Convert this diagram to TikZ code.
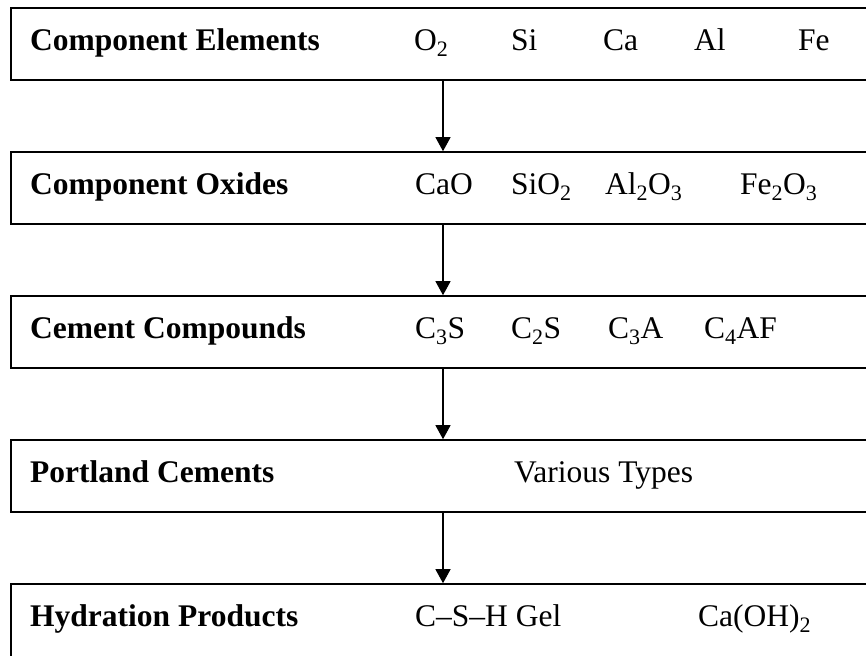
\documentclass[tikz,border=0pt]{standalone}
\usepackage{fontspec}
\setmainfont{Liberation Serif}
\usetikzlibrary{arrows.meta}
\tikzset{
  stagebox/.style={draw=black, line width=1.6pt, minimum width=864pt, minimum height=72pt, inner sep=0pt},
  lbl/.style={anchor=base west, inner sep=0pt, font=\fontsize{31.5}{36}\selectfont\bfseries},
  itm/.style={anchor=base west, inner sep=0pt, font=\fontsize{31.5}{36}\selectfont},
  arr/.style={line width=1.2pt, -{Triangle[length=14pt,width=15pt]}}
}
\newcommand{\sub}[1]{\textsubscript{#1}}
\begin{document}
\begin{tikzpicture}[x=1pt,y=-1pt]
\useasboundingbox (0,0) rectangle (866,655);
% boxes
\node[stagebox] (b1) at (443,44) {};
\node[stagebox] (b2) at (443,188) {};
\node[stagebox] (b3) at (443,332) {};
\node[stagebox] (b4) at (443,476) {};
\node[stagebox, minimum height=78pt] (b5) at (443,623) {};
% row 1
\node[lbl] (l1) at (30,50.5) {Component Elements};
\node[itm] (e1) at (414,50.5) {O\sub{2}};
\node[itm] (e2) at (511,50.5) {Si};
\node[itm] (e3) at (603,50.5) {Ca};
\node[itm] (e4) at (694,50.5) {Al};
\node[itm] (e5) at (798,50.5) {Fe};
% row 2
\node[lbl] (l2) at (30,194.5) {Component Oxides};
\node[itm] (o1) at (415,194.5) {CaO};
\node[itm] (o2) at (511,194.5) {SiO\sub{2}};
\node[itm] (o3) at (605,194.5) {Al\sub{2}O\sub{3}};
\node[itm] (o4) at (740,194.5) {Fe\sub{2}O\sub{3}};
% row 3
\node[lbl] (l3) at (30,338.5) {Cement Compounds};
\node[itm] (c1) at (415,338.5) {C\sub{3}S};
\node[itm] (c2) at (511,338.5) {C\sub{2}S};
\node[itm] (c3) at (608,338.5) {C\sub{3}A};
\node[itm] (c4) at (704,338.5) {C\sub{4}AF};
% row 4
\node[lbl] (l4) at (30,482.5) {Portland Cements};
\node[itm] (p1) at (514,482.5) {Various Types};
% row 5
\node[lbl] (l5) at (30,626.5) {Hydration Products};
\node[itm] (h1) at (415,626.5) {C--S--H Gel};
\node[itm] (h2) at (698,626.5) {Ca(OH)\sub{2}};
% arrows
\draw[arr] (b1.south) -- (b2.north);
\draw[arr] (b2.south) -- (b3.north);
\draw[arr] (b3.south) -- (b4.north);
\draw[arr] (b4.south) -- (b5.north);
\end{tikzpicture}
\end{document}
